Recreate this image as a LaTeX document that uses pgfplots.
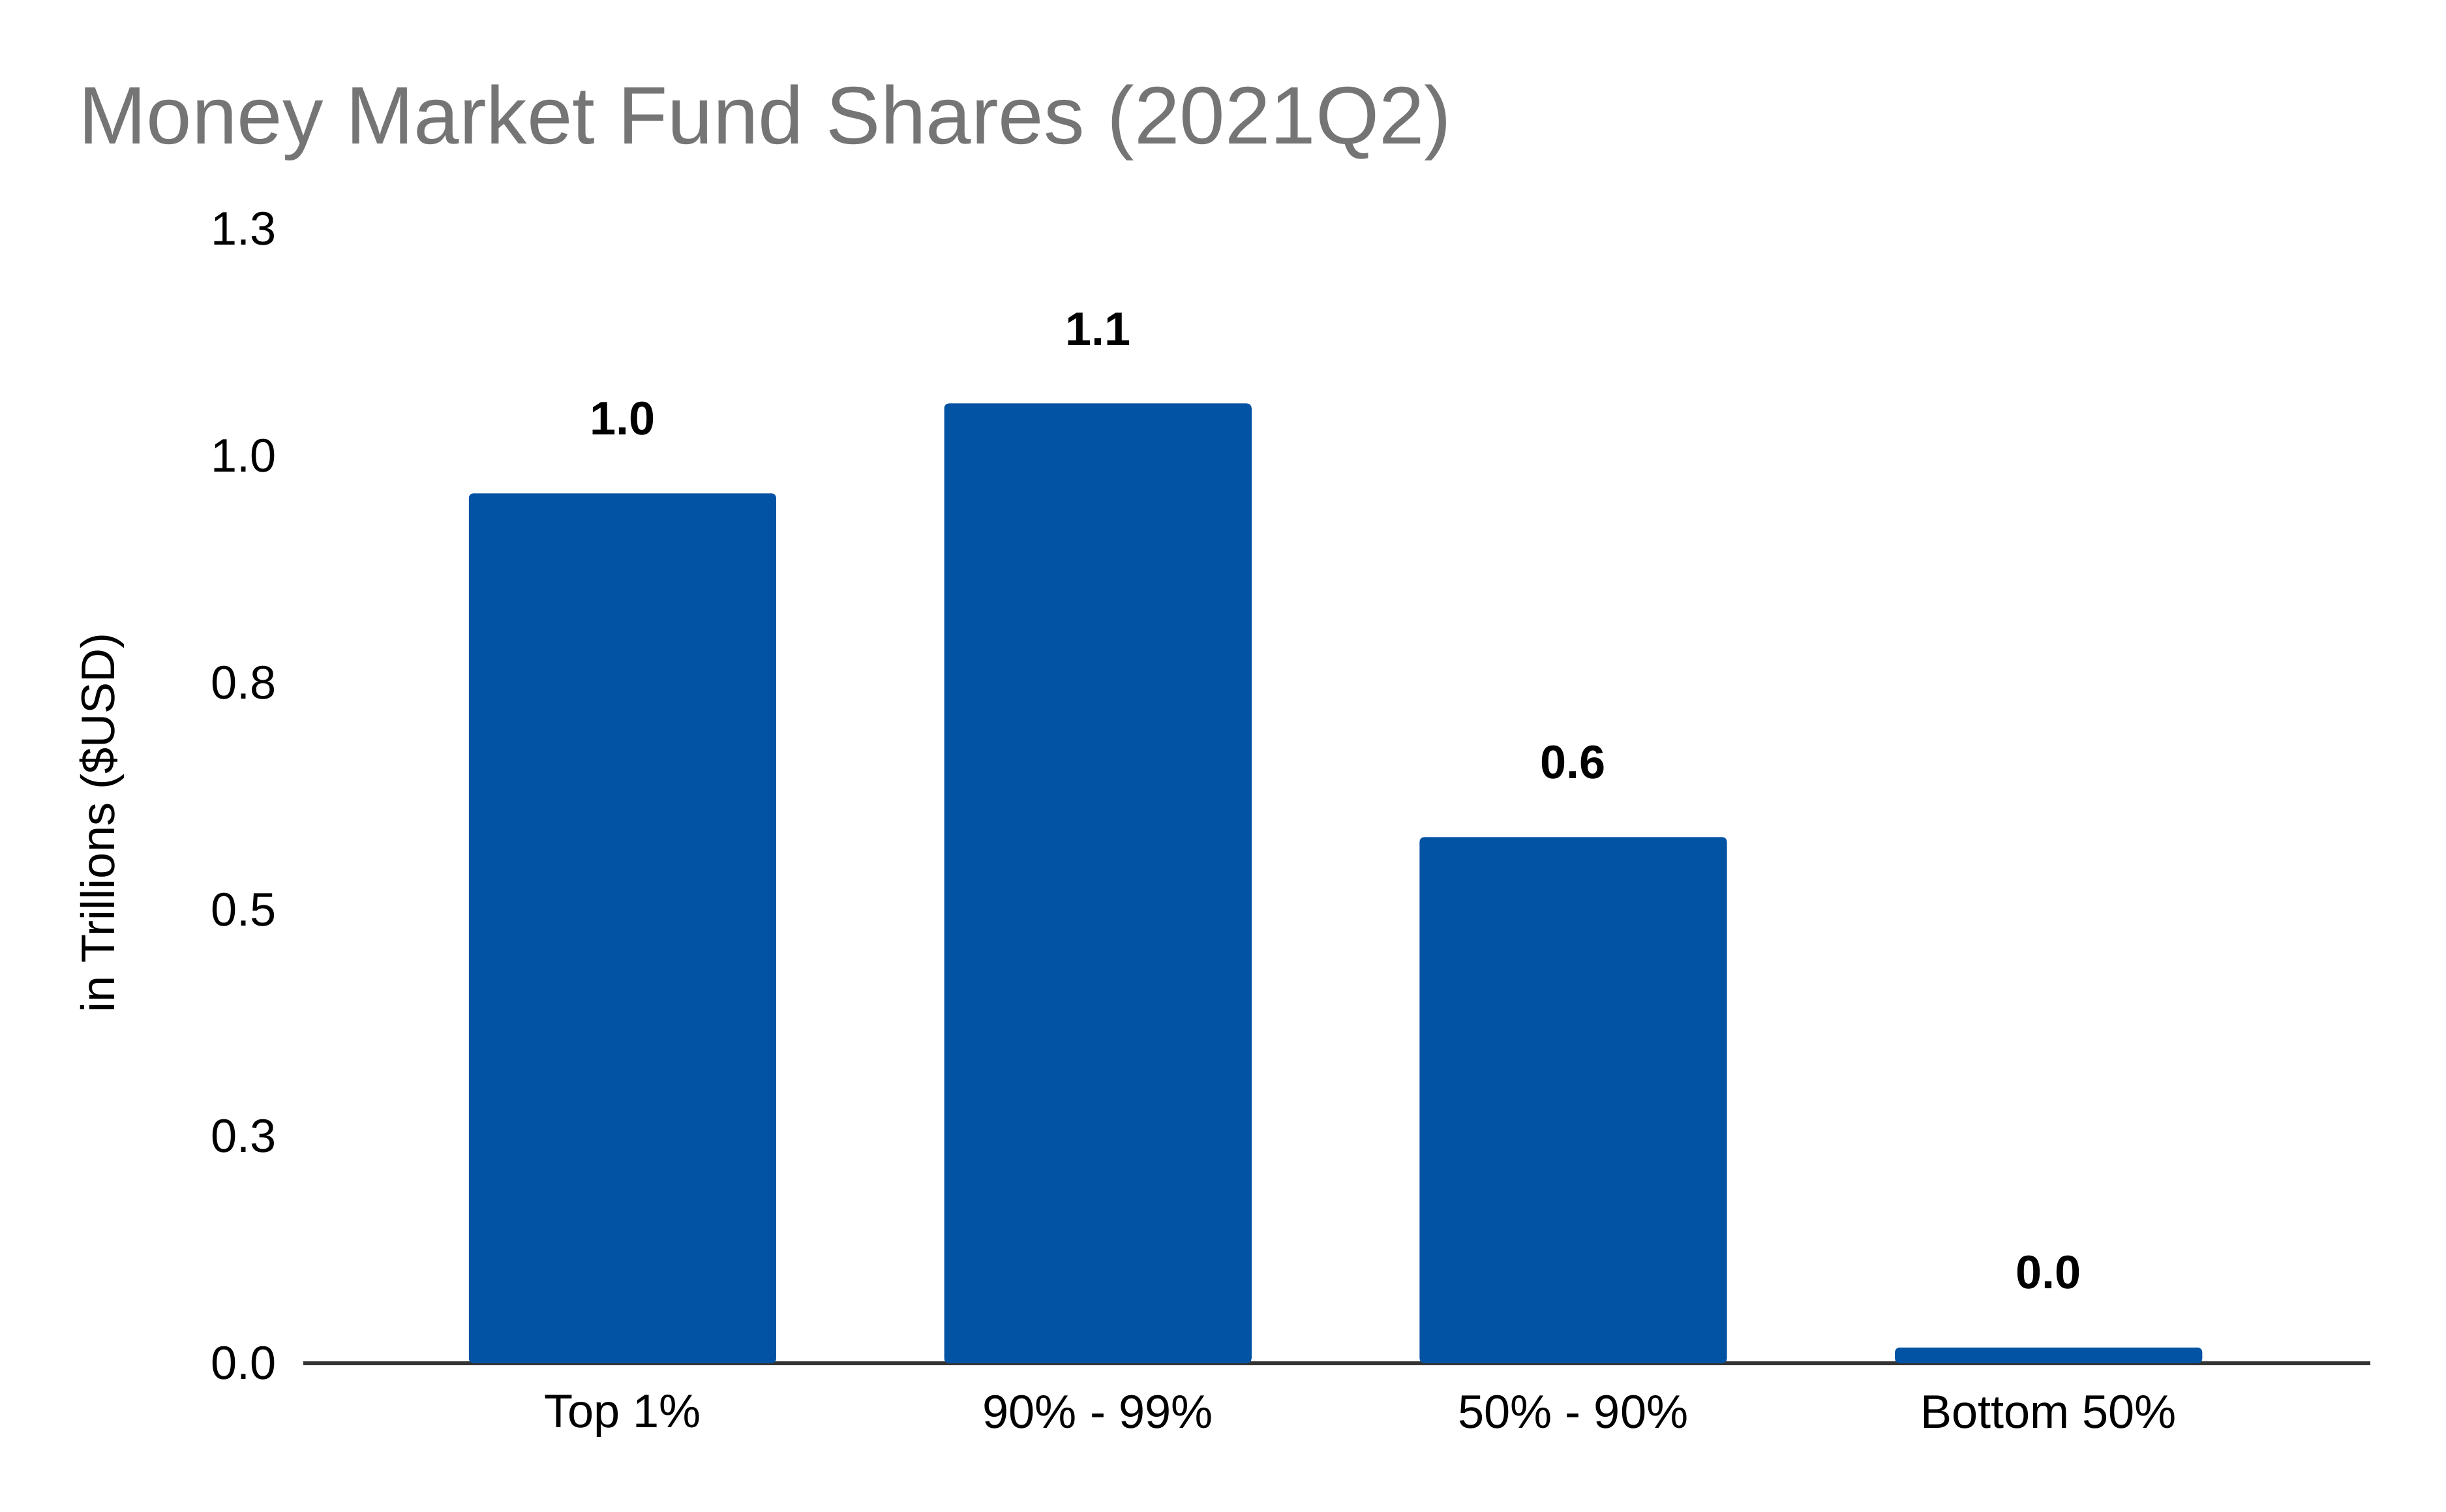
\documentclass[border=0pt]{standalone}
\usepackage{pgfplots}
\pgfplotsset{compat=1.18}
\usepackage{fontspec}
\setmainfont{Liberation Sans}
\definecolor{barblue}{RGB}{3,83,164}
\definecolor{titlegray}{RGB}{117,117,117}
\definecolor{axisgray}{RGB}{51,51,51}
\begin{document}
\begin{tikzpicture}
\path[use as bounding box] (-96.8pt,-47.3pt) rectangle (683.2pt,434.7pt);
\begin{axis}[
  at={(0,0)}, anchor=south west,
  scale only axis, width=659.1pt, height=361.7pt,
  xmin=-0.671, xmax=3.677, ymin=0, ymax=1.3,
  /pgf/number format/assume math mode=true,
  font=\fontsize{15}{18}\selectfont,
  axis x line*=bottom, axis y line*=left,
  x axis line style={draw=axisgray, line width=1.2pt, -},
  y axis line style={draw=none},
  major tick length=0pt,
  xtick={0,1,2,3},
  xticklabels={Top 1\%, 90\% - 99\%, 50\% - 90\%, Bottom 50\%},
  xticklabel style={anchor=north, inner sep=0pt, yshift=-10pt},
  ytick={0,0.26,0.52,0.78,1.04,1.3},
  yticklabels={0.0,0.3,0.5,0.8,1.0,1.3},
  yticklabel style={anchor=east, inner sep=0pt, xshift=-8.4pt},
  every axis y label/.style={at={(rel axis cs:-0.0974,0.4764)}, rotate=90, anchor=center},
  ylabel={in Trillions (\$USD)},
  ybar, bar width=98pt,
  nodes near coords,
  nodes near coords style={anchor=south, inner sep=0pt, yshift=18.4pt, font=\fontsize{15}{18}\selectfont\bfseries,
    /pgf/number format/.cd, fixed, fixed zerofill, precision=1, assume math mode=true},
]
\addplot[fill=barblue, draw=none, rounded corners=1.5pt] coordinates {(0,0.997) (1,1.100) (2,0.603) (3,0.018)};
\end{axis}
\node[anchor=base west, text=titlegray, font=\fontsize{26}{30}\selectfont, inner sep=0pt] at (-71.9pt,388.9pt) {Money Market Fund Shares (2021Q2)};
\end{tikzpicture}
\end{document}
